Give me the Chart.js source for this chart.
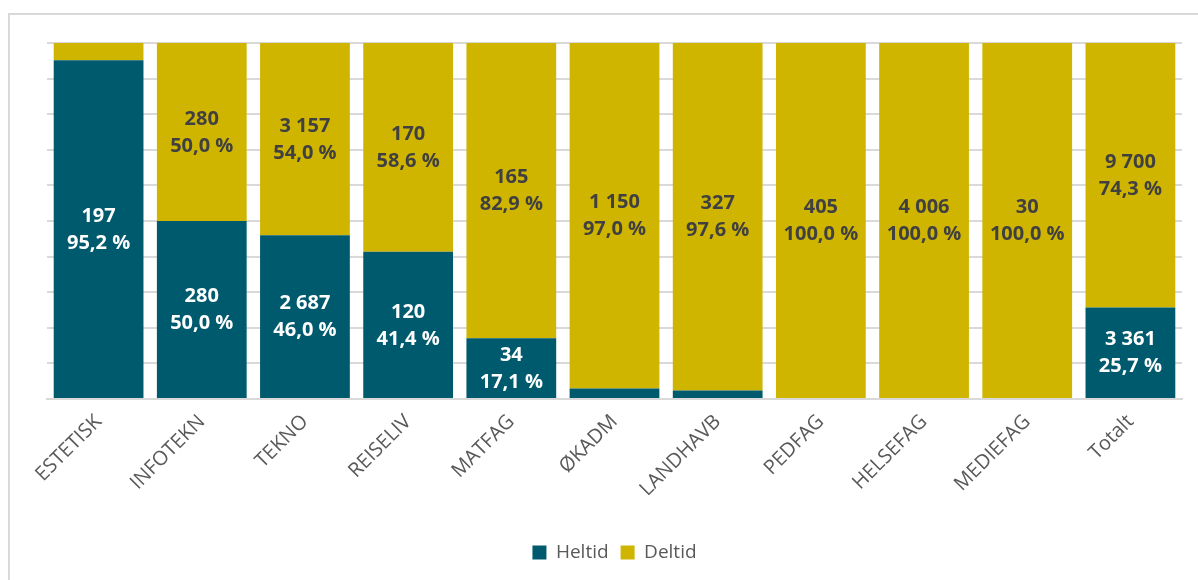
<!DOCTYPE html>
<html>
<head>
<meta charset="utf-8">
<script src="https://cdn.jsdelivr.net/npm/chart.js@4"></script>
<style>
  html, body { margin: 0; padding: 0; background: #fff; }
  #wrap { width: 1198px; height: 580px; }
</style>
</head>
<body>
<div id="wrap"><canvas id="chart" width="1198" height="580"></canvas></div>
<script>
// Data
const categories = ['ESTETISK', 'INFOTEKN', 'TEKNO', 'REISELIV', 'MATFAG', 'ØKADM', 'LANDHAVB', 'PEDFAG', 'HELSEFAG', 'MEDIEFAG', 'Totalt'];
const heltid = [197, 280, 2687, 120, 34, 35, 8, 0, 0, 0, 3361];
const deltid = [10, 280, 3157, 170, 165, 1150, 327, 405, 4006, 30, 9700];

const heltidColor = '#005a6e';
const deltidColor = '#cfb500';

// Share of each category in percent
const totals = heltid.map((h, i) => h + deltid[i]);
const heltidPct = heltid.map((h, i) => h / totals[i] * 100);
const deltidPct = deltid.map((d, i) => d / totals[i] * 100);
const counts = [heltid, deltid];

function fmtCount(n) {
  return String(n).replace(/\B(?=(\d{3})+(?!\d))/g, ' ');
}
function fmtPct(p) {
  return p.toFixed(1).replace('.', ',') + ' %';
}

// Draw count and percent in the middle of each segment
const segmentLabels = {
  id: 'segmentLabels',
  afterDatasetsDraw(chart) {
    const ctx = chart.ctx;
    ctx.save();
    ctx.font = 'bold 20px "Open Sans", sans-serif';
    ctx.textAlign = 'center';
    ctx.textBaseline = 'middle';
    chart.data.datasets.forEach((ds, di) => {
      const meta = chart.getDatasetMeta(di);
      meta.data.forEach((bar, i) => {
        const pct = ds.data[i];
        if (pct < 8) return;
        const yMid = (bar.y + bar.base) / 2;
        ctx.fillStyle = di === 0 ? '#ffffff' : '#404040';
        ctx.fillText(fmtCount(counts[di][i]), bar.x, yMid - 13);
        ctx.fillText(fmtPct(pct), bar.x, yMid + 14);
      });
    });
    ctx.restore();
  }
};

// Light frame round the chart
const frame = {
  id: 'frame',
  beforeDraw(chart) {
    const ctx = chart.ctx;
    ctx.save();
    ctx.fillStyle = '#fff';
    ctx.fillRect(0, 0, chart.width, chart.height);
    ctx.strokeStyle = '#d9d9d9';
    ctx.lineWidth = 2;
    ctx.strokeRect(9, 14, chart.width + 10, chart.height + 10);
    ctx.restore();
  }
};

new Chart(document.getElementById('chart'), {
  type: 'bar',
  data: {
    labels: categories,
    datasets: [
      { label: 'Heltid', data: heltidPct, backgroundColor: heltidColor, barPercentage: 0.87, categoryPercentage: 1 },
      { label: 'Deltid', data: deltidPct, backgroundColor: deltidColor, barPercentage: 0.87, categoryPercentage: 1 }
    ]
  },
  options: {
    responsive: false,
    animation: false,
    layout: { padding: { left: 47, right: 16, top: 43, bottom: 8 } },
    plugins: {
      legend: {
        position: 'bottom',
        labels: {
          font: { family: '"Open Sans", sans-serif', size: 19 },
          color: '#595959',
          boxWidth: 14,
          boxHeight: 14,
          padding: 12
        }
      },
      tooltip: { enabled: false }
    },
    scales: {
      x: {
        stacked: true,
        grid: { display: false },
        border: { color: '#d9d9d9', width: 2 },
        ticks: {
          minRotation: 45,
          maxRotation: 45,
          color: '#595959',
          font: { family: '"Open Sans", sans-serif', size: 20 }
        },
        afterFit(scale) { scale.height = 132; }
      },
      y: {
        stacked: true,
        min: 0,
        max: 100,
        ticks: { display: false, stepSize: 10 },
        grid: { color: '#d9d9d9', lineWidth: 2, drawTicks: false },
        border: { display: false }
      }
    }
  },
  plugins: [frame, segmentLabels]
});
</script>
</body>
</html>
